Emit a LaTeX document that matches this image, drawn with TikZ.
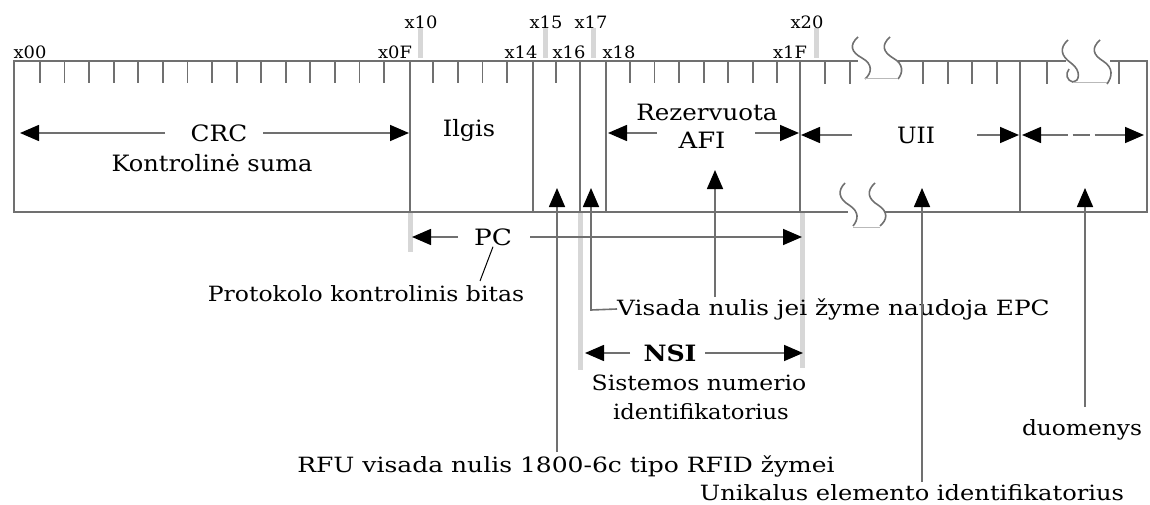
\documentclass[tikz,border=0pt]{standalone}
\usepackage{fontspec}
\usepackage{graphicx}
\setmainfont{DejaVu Serif}
\usetikzlibrary{arrows.meta}
\definecolor{linec}{RGB}{112,112,112}
\definecolor{barc}{RGB}{215,215,215}
\definecolor{faint}{RGB}{185,185,185}
\newcommand{\hstr}[2]{\scalebox{#1}[1]{#2}}
\tikzset{
  frame/.style={draw=linec, line width=1.8pt},
  tk/.style={draw=linec, line width=1.8pt},
  divider/.style={draw=linec, line width=1.9pt},
  greybar/.style={draw=barc, line width=5pt},
  squig/.style={draw=linec, line width=1.6pt},
  joinl/.style={draw=faint, line width=1pt},
  tip/.tip={Triangle[length=19pt,width=16pt,color=black]},
  arr/.style={draw=linec, line width=1.6pt, -tip},
  lbl/.style={inner sep=0pt, font=\fontsize{17}{19}\selectfont},
  big/.style={inner sep=0pt, font=\fontsize{22.5}{24}\selectfont},
  txt/.style={inner sep=0pt, font=\fontsize{21}{23}\selectfont},
}
\begin{document}
\begin{tikzpicture}[x=1pt,y=-1pt]
\useasboundingbox (0,0) rectangle (1150,505);
% grey bars
\foreach \x/\a/\b in {410/212/252, 580/212/370, 802/212/368, 420/28/58, 545/28/58, 593/28/58, 816/28/58}
  \draw[greybar] (\x,\a) -- (\x,\b);
% frame
\draw[frame] (858,61) -- (14,61) -- (14,212) -- (848,212);
\draw[frame] (898,61) -- (1066,61);
\draw[frame] (1110,61) -- (1147,61) -- (1147,212) -- (884,212);
% ticks
\foreach \k in {1,...,15,17,18,19,20,22,25,26,27,28,29,30,31}
  \draw[tk] ({15.4+24.58*\k},61) -- ({15.4+24.58*\k},83);
\foreach \x in {825,850,923,948,972,997,1047,1119}
  \draw[tk] (\x,61) -- (\x,84);
% dividers
\foreach \x in {410,533,580,606,800,1020}
  \draw[divider] (\x,61) -- (\x,212);
% squiggles
\draw[squig] (858,37) .. controls (849,45) and (851,52) .. (862,58) .. controls (873,64) and (872,73) .. (865,79);
\draw[squig] (890,37) .. controls (881,45) and (883,52) .. (893,58) .. controls (904,64) and (903,73) .. (898,79);
\draw[joinl] (865,79) -- (898,79);
\draw[squig] (1068,40) .. controls (1059,48) and (1061,56) .. (1071,63) .. controls (1082,71) and (1079,82) .. (1073,82) .. controls (1067,81) and (1065,74) .. (1069,69);
\draw[squig] (1100,40) .. controls (1091,48) and (1093,55) .. (1103,61) .. controls (1114,68) and (1112,77) .. (1107,84);
\draw[joinl] (1073,83) -- (1107,83);
\draw[squig] (845,183) .. controls (837,191) and (839,199) .. (849,205) .. controls (860,212) and (858,220) .. (853,226);
\draw[squig] (875,183) .. controls (866,191) and (868,199) .. (878,205) .. controls (889,212) and (887,220) .. (880,226);
\draw[joinl] (853,227) -- (880,227);
% tick labels
\node[lbl] (l00) at (30,52) {\hstr{1.05}{x00}};
\node[lbl] (l0F) at (395,52) {\hstr{1.05}{x0F}};
\node[lbl] (l10) at (421,22) {\hstr{1.05}{x10}};
\node[lbl] (l14) at (521,52) {\hstr{1.05}{x14}};
\node[lbl] (l15) at (546,22) {\hstr{1.05}{x15}};
\node[lbl] (l16) at (569,52) {\hstr{1.05}{x16}};
\node[lbl] (l17) at (591,22) {\hstr{1.05}{x17}};
\node[lbl] (l18) at (619,52) {\hstr{1.05}{x18}};
\node[lbl] (l1F) at (790,52) {\hstr{1.05}{x1F}};
\node[lbl] (l20) at (807,22) {\hstr{1.05}{x20}};
% field texts
\node[big] (crc) at (219,133) {\hstr{1.1}{CRC}};
\node[big] (kont) at (212,163) {\hstr{1.07}{Kontrolinė suma}};
\node[big] (ilg) at (469,130) {\hstr{1.06}{Ilgis}};
\node[big] (rez) at (707,112) {\hstr{1.09}{Rezervuota}};
\node[big] (afi) at (702,140) {\hstr{1.15}{AFI}};
\node[big] (uii) at (916,135) {\hstr{1.03}{UII}};
\node[big] (pc) at (493,237) {\hstr{1.17}{PC}};
\node[big, font=\fontsize{22.5}{24}\selectfont\bfseries] (nsi) at (670,353) {\hstr{1.12}{NSI}};
\node[txt] (prot) at (366,294) {\hstr{1.12}{Protokolo kontrolinis bitas}};
\node[txt, anchor=west] (vis) at (617,309) {\hstr{1.18}{Visada nulis jei žyme naudoja EPC}};
\node[txt] (sis) at (699,383) {\hstr{1.12}{Sistemos numerio}};
\node[txt] (sid) at (701,412) {\hstr{1.08}{identifikatorius}};
\node[txt] (rfu) at (566,466) {\hstr{1.19}{RFU visada nulis 1800-6c tipo RFID žymei}};
\node[txt] (uni) at (912,493) {\hstr{1.15}{Unikalus elemento identifikatorius}};
\node[txt] (duo) at (1082,430) {\hstr{1.11}{duomenys}};
% coordinates
\coordinate (crcL) at (165,133); \coordinate (crcLt) at (20,133);
\coordinate (crcR) at (263,133); \coordinate (crcRt) at (409,133);
\coordinate (afiL) at (657,133); \coordinate (afiLt) at (608,133);
\coordinate (afiR) at (755,133); \coordinate (afiRt) at (799,133);
\coordinate (uiiL) at (852,135); \coordinate (uiiLt) at (801,135);
\coordinate (uiiR) at (977,135); \coordinate (uiiRt) at (1019,135);
\coordinate (datL) at (1022,135); \coordinate (datR) at (1144,135);
\coordinate (pcL) at (458,237); \coordinate (pcLt) at (412,237);
\coordinate (pcR) at (530,237); \coordinate (pcRt) at (802,237);
\coordinate (nsiL) at (630,353); \coordinate (nsiLt) at (585,353);
\coordinate (nsiR) at (705,353); \coordinate (nsiRt) at (803,353);
\coordinate (rfuT) at (557,188); \coordinate (rfuB) at (557,452);
\coordinate (visT) at (591,188); \coordinate (visC) at (591,310);
\coordinate (afiT) at (715,170); \coordinate (afiB) at (715,297);
\coordinate (uiiT) at (922,188); \coordinate (uiiB) at (922,482);
\coordinate (duoT) at (1085,188); \coordinate (duoB) at (1085,407);
\coordinate (pcEnd) at (480,281);
% arrows
\draw[arr] (crcL) -- (crcLt);
\draw[arr] (crcR) -- (crcRt);
\draw[arr] (afiL) -- (afiLt);
\draw[arr] (afiR) -- (afiRt);
\draw[arr] (uiiL) -- (uiiLt);
\draw[arr] (uiiR) -- (uiiRt);
\draw[arr, tip-tip, dash pattern=on 27pt off 5pt on 17pt off 5pt on 60pt] (datL) -- (datR);
\draw[arr] (pcL) -- (pcLt);
\draw[arr] (pcR) -- (pcRt);
\draw[arr] (nsiL) -- (nsiLt);
\draw[arr] (nsiR) -- (nsiRt);
\draw[arr] (rfuB) -- (rfuT);
\draw[arr] (vis.west) -- (visC) -- (visT);
\draw[arr] (afiB) -- (afiT);
\draw[arr] (uiiB) -- (uiiT);
\draw[arr] (duoB) -- (duoT);
\draw[draw=black, line width=1pt] ([yshift=-1pt]pc.south) -- (pcEnd);
\end{tikzpicture}
\end{document}
